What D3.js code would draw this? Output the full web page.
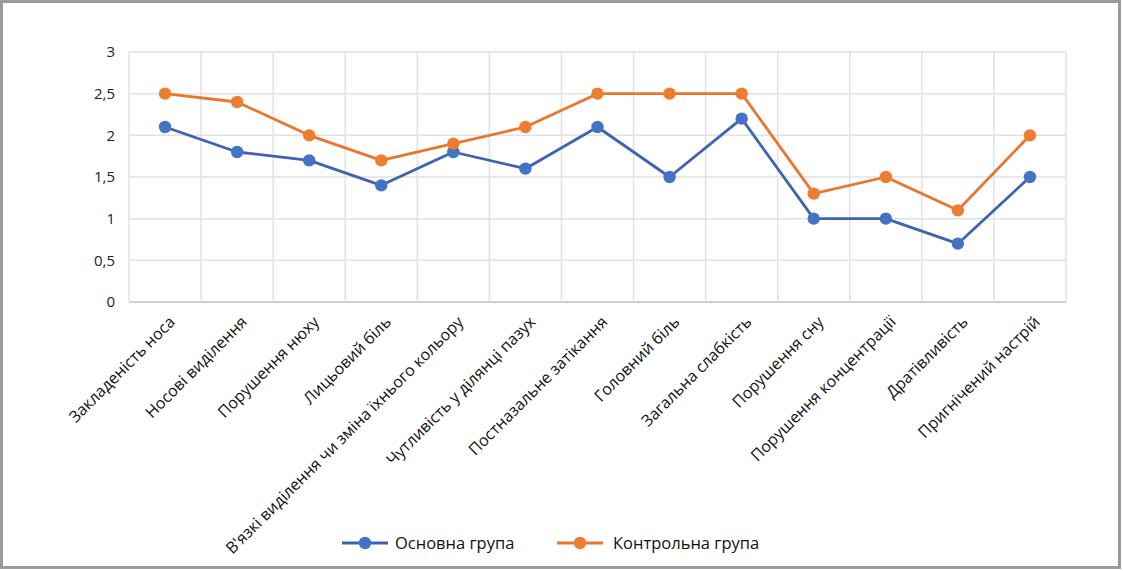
<!DOCTYPE html>
<html><head><meta charset="utf-8">
<script src="https://cdn.jsdelivr.net/npm/d3@7"></script>
<style>
html,body{margin:0;padding:0;background:#fff;}
svg{display:block;font-family:"Open Sans",sans-serif;}
</style></head>
<body><svg id="c" width="1123" height="571"></svg>
<script>
const categories = ["Закладеність носа","Носові виділення","Порушення нюху","Лицьовий біль","В'язкі виділення чи зміна їхнього кольору","Чутливість у ділянці пазух","Постназальне затікання","Головний біль","Загальна слабкість","Порушення сну","Порушення концентрації","Дратівливість","Пригнічений настрій"];
const mainGroup = [2.1,1.8,1.7,1.4,1.8,1.6,2.1,1.5,2.2,1.0,1.0,0.7,1.5];
const controlGroup = [2.5,2.4,2.0,1.7,1.9,2.1,2.5,2.5,2.5,1.3,1.5,1.1,2.0];
const seriesNames = ["Основна група","Контрольна група"];
const yTicks = [0,0.5,1,1.5,2,2.5,3];
const colors = ["#4472C4","#ED7D31"];
const lineColors = ["#3F63B0","#E8762E"];

const svg = d3.select("#c");
svg.append("rect").attr("x",1.5).attr("y",1.5).attr("width",1118).attr("height",566)
  .attr("fill","#fff").attr("stroke","#9a9a9a").attr("stroke-width",3);

const L=129,R=1066,T=52,B=302;
const x = d3.scaleBand().domain(categories).range([L,R]);
const y = d3.scaleLinear().domain([0,3]).range([B,T]);
const fmt = v => String(v).replace(".",",");

// horizontal gridlines
svg.append("g").selectAll("line").data(yTicks).join("line")
  .attr("x1",L).attr("x2",R).attr("y1",d=>y(d)).attr("y2",d=>y(d))
  .attr("stroke",d=>d===0?"#d0d0d0":"#e2e2e2").attr("stroke-width",d=>d===0?2:1.5);
// vertical gridlines
const bounds = categories.map(c=>x(c)).concat([R]);
svg.append("g").selectAll("line").data(bounds).join("line")
  .attr("x1",d=>d).attr("x2",d=>d).attr("y1",T).attr("y2",B)
  .attr("stroke","#e2e2e2").attr("stroke-width",1.5);

// y axis labels
const yAxis = d3.axisLeft(y).tickValues(yTicks).tickFormat(fmt).tickSize(0).tickPadding(14);
const ya = svg.append("g").attr("transform",`translate(${L},0)`).call(yAxis);
ya.select(".domain").remove();
ya.selectAll("text").attr("font-size",15).attr("fill","#222").attr("font-family","Open Sans, sans-serif");

// x axis labels
const xa = svg.append("g").attr("transform",`translate(0,${B})`)
  .call(d3.axisBottom(x).tickSize(0).tickPadding(0));
xa.select(".domain").remove();
xa.selectAll("text")
  .attr("font-size",16).attr("fill","#111").attr("font-family","Open Sans, sans-serif")
  .attr("text-anchor","end").attr("dy",0)
  .attr("transform","translate(11,21) rotate(-45)");

const cx = c => x(c)+x.bandwidth()/2;
[mainGroup,controlGroup].forEach((vals,i)=>{
  const pts = categories.map((c,j)=>[cx(c),y(vals[j])]);
  svg.append("path").attr("d",d3.line()(pts)).attr("fill","none")
    .attr("stroke",lineColors[i]).attr("stroke-width",2.8).attr("stroke-linejoin","round");
  svg.append("g").selectAll("circle").data(pts).join("circle")
    .attr("cx",d=>d[0]).attr("cy",d=>d[1]).attr("r",6.2).attr("fill",colors[i]);
});

// legend
const leg = [{x:342,tx:395},{x:557,tx:613}];
seriesNames.forEach((n,i)=>{
  const g = svg.append("g");
  g.append("line").attr("x1",leg[i].x).attr("x2",leg[i].x+46).attr("y1",543).attr("y2",543)
    .attr("stroke",lineColors[i]).attr("stroke-width",2.8);
  g.append("circle").attr("cx",leg[i].x+23).attr("cy",543).attr("r",6.2).attr("fill",colors[i]);
  g.append("text").attr("x",leg[i].tx).attr("y",549).attr("font-size",16.5).attr("fill","#111").text(n);
});
</script></body></html>
